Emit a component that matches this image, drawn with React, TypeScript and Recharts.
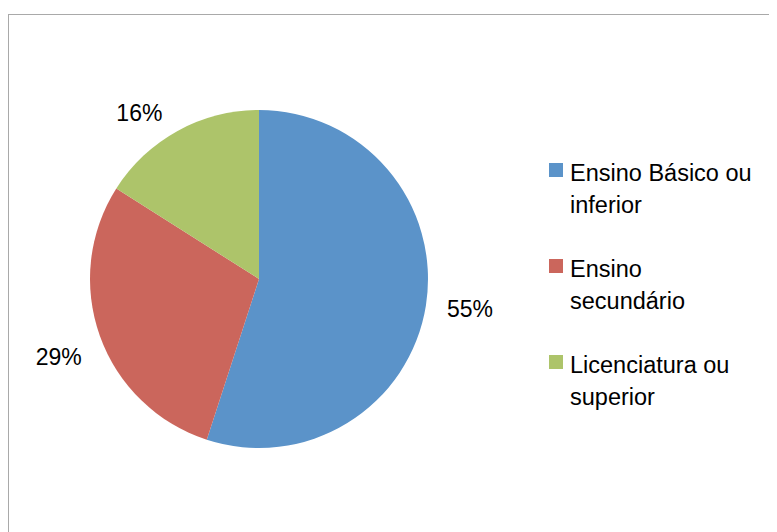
import React from 'react';
import { PieChart, Pie, Cell, Legend } from 'recharts';

const categories = ['Ensino Básico ou inferior', 'Ensino secundário', 'Licenciatura ou superior'];
const values = [55, 29, 16];
const labels = ['55%', '29%', '16%'];
const colors = ['#5B93C9', '#CB665C', '#ADC46A'];

const data = categories.map((name, i) => ({ name, value: values[i], label: labels[i] }));

// Label placement tweaks (best-fit style), per slice index
const LABEL_RADIUS = [213, 215, 205];
const LABEL_ANGLE_ADJ = [1, 1.5, 6.9];
const RAD = Math.PI / 180;

const FONT = '"Liberation Sans", Arial, sans-serif';

const renderLabel = (props: any) => {
  const { cx, cy, midAngle, index } = props;
  const a = (midAngle + LABEL_ANGLE_ADJ[index]) * RAD;
  const r = LABEL_RADIUS[index];
  const x = cx + r * Math.cos(a);
  const y = cy - r * Math.sin(a);
  return (
    <text
      x={x}
      y={y}
      textAnchor="middle"
      dominantBaseline="central"
      fill="#000"
      fontSize={23}
      fontFamily={FONT}
    >
      {data[index].label}
    </text>
  );
};

const renderLegend = () => (
  <div style={{ fontFamily: FONT, fontSize: 23.5, lineHeight: '32px', color: '#000' }}>
    {data.map((d, i) => (
      <div key={d.name} style={{ display: 'flex', alignItems: 'flex-start', marginBottom: 32 }}>
        <div
          style={{
            width: 14,
            height: 14,
            background: colors[i],
            marginTop: 6,
            marginRight: 7,
            flex: '0 0 auto',
          }}
        />
        <div style={{ width: 190 }}>{d.name}</div>
      </div>
    ))}
  </div>
);

export default function App() {
  return (
    <div style={{ paddingTop: 6 }}>
      <div
        style={{
          borderLeft: '1px solid #a9a9a9',
          borderTop: '1px solid #a9a9a9',
          width: 769,
          height: 520,
          boxSizing: 'border-box',
        }}
      >
        <PieChart width={768} height={517} margin={{ top: 0, right: 0, bottom: 0, left: 0 }}>
          <Pie
            data={data}
            dataKey="value"
            nameKey="name"
            cx={250}
            cy={264}
            outerRadius={169}
            startAngle={90}
            endAngle={-270}
            stroke="none"
            label={renderLabel}
            labelLine={false}
            isAnimationActive={false}
          >
            {data.map((d, i) => (
              <Cell key={d.name} fill={colors[i]} />
            ))}
          </Pie>
          <Legend
            content={renderLegend}
            layout="vertical"
            wrapperStyle={{ position: 'absolute', left: 540, top: 142, width: 220 }}
          />
        </PieChart>
      </div>
    </div>
  );
}
